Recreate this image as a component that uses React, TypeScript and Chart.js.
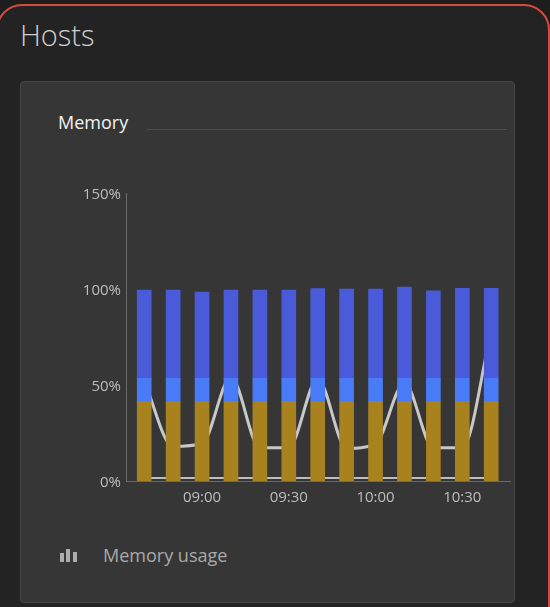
import React, { useEffect, useRef } from "react";
import { Chart, registerables } from "chart.js";

Chart.register(...registerables);

// ---- data ----
const times = ["08:40", "08:50", "09:00", "09:10", "09:20", "09:30", "09:40", "09:50", "10:00", "10:10", "10:20", "10:30", "10:40"];
const usedValues = [41.3, 41.3, 41.3, 41.3, 41.3, 41.3, 41.3, 41.3, 41.3, 41.3, 41.3, 41.3, 41.3];
const reclaimableValues = [12.2, 12.2, 12.2, 12.2, 12.2, 12.2, 12.2, 12.2, 12.2, 12.2, 12.2, 12.2, 12.2];
const availableValues = [46, 46, 44.9, 46, 46, 46, 46.7, 46.5, 46.5, 47.5, 45.6, 46.8, 46.8];
const pageFaultValues = [52, 18, 19.5, 54, 17.3, 17.5, 53, 17, 19.5, 51, 17.3, 17.3, 78];
const swapValues = [1.5, 1.5, 1.5, 1.5, 1.5, 1.5, 1.5, 1.5, 1.5, 1.5, 1.5, 1.5, 1.5];
const xTickLabels = ["09:00", "09:30", "10:00", "10:30"];
const yTickValues = [0, 50, 100, 150];

const BASE = 8 * 60 + 40;
const toMin = (t: string) => {
  const [h, m] = t.split(":").map(Number);
  return h * 60 + m - BASE;
};
const fmt = (v: number) => {
  const total = Math.round(v) + BASE;
  const h = Math.floor(total / 60);
  const m = total % 60;
  return `${String(h).padStart(2, "0")}:${String(m).padStart(2, "0")}`;
};
const pts = (vals: number[]) => vals.map((y, i) => ({ x: toMin(times[i]), y }));

function MemoryChart() {
  const ref = useRef<HTMLCanvasElement | null>(null);
  useEffect(() => {
    if (!ref.current) return;
    const font = { family: "'Open Sans', sans-serif", size: 15 };
    const chart = new Chart(ref.current, {
      type: "bar",
      data: {
        datasets: [
          { type: "bar", label: "Used", data: pts(usedValues), backgroundColor: "#a8821f", stack: "mem", order: 1, barThickness: 14, borderWidth: 0 },
          { type: "bar", label: "Reclaimable", data: pts(reclaimableValues), backgroundColor: "#4a7bf7", stack: "mem", order: 1, barThickness: 14, borderWidth: 0 },
          { type: "bar", label: "Available", data: pts(availableValues), backgroundColor: "#4a5bd9", stack: "mem", order: 1, barThickness: 14, borderWidth: 0 },
          { type: "line", label: "Page faults", data: pts(pageFaultValues), borderColor: "#c8c8c8", borderWidth: 3, pointRadius: 0, cubicInterpolationMode: "monotone", stack: "l1", order: 2, fill: false },
          { type: "line", label: "Swap", data: pts(swapValues), borderColor: "#bdbdbd", borderWidth: 2, pointRadius: 0, stack: "l2", order: 2, fill: false },
        ] as any,
      },
      options: {
        animation: false,
        responsive: false,
        maintainAspectRatio: false,
        layout: { padding: { top: 23, right: 10, left: 0, bottom: 0 } },
        plugins: { legend: { display: false }, tooltip: { enabled: false } },
        scales: {
          x: {
            type: "linear",
            offset: false,
            min: -6.3,
            max: 126.5,
            grid: { display: false, drawTicks: false, offset: false },
            border: { display: true, color: "#6a6a6a", width: 1 },
            afterBuildTicks: (scale: any) => {
              scale.ticks = xTickLabels.map((t) => ({ value: toMin(t) }));
            },
            afterFit: (scale: any) => {
              scale.height = 34;
            },
            ticks: {
              color: "#bdbdbd",
              font,
              padding: 8,
              maxRotation: 0,
              autoSkip: false,
              callback: (v: any) => fmt(Number(v)),
            },
          },
          y: {
            type: "linear",
            stacked: true,
            min: 0,
            max: 150,
            grid: { display: false, drawTicks: false },
            border: { display: true, color: "#6a6a6a", width: 1 },
            afterBuildTicks: (scale: any) => {
              scale.ticks = yTickValues.map((v) => ({ value: v }));
            },
            afterFit: (scale: any) => {
              scale.width = 66;
            },
            ticks: {
              color: "#bdbdbd",
              font,
              padding: 5,
              labelOffset: 2,
              callback: (v: any) => `${v}%`,
            },
          },
        },
      } as any,
    });
    return () => chart.destroy();
  }, []);
  return <canvas ref={ref} width={460} height={345} style={{ position: "absolute", left: 60, top: 170, width: 460, height: 345 }} />;
}

export default function App() {
  return (
    <div style={{ position: "absolute", left: 0, top: 0, width: 550, height: 607, background: "#1d1d1d", overflow: "hidden", fontFamily: "'Open Sans', sans-serif" }}>
      <div style={{ position: "absolute", left: -4, top: 4, width: 554, height: 640, background: "#232323", border: "2px solid #d64a40", borderRadius: 26, boxSizing: "border-box" }} />
      <div style={{ position: "absolute", left: 20, top: 20, fontSize: 29, lineHeight: "29px", fontWeight: 300, color: "#cfcfcf" }}>Hosts</div>
      <div style={{ position: "absolute", left: 20, top: 81, width: 495, height: 522, background: "#363636", border: "1px solid #454545", borderRadius: 4, boxSizing: "border-box" }} />
      <div style={{ position: "absolute", left: 58, top: 113, fontSize: 18, lineHeight: "18px", color: "#f2f2f2" }}>Memory</div>
      <div style={{ position: "absolute", left: 147, top: 129, width: 360, height: 1, background: "#4c4c4c" }} />
      <MemoryChart />
      <div style={{ position: "absolute", left: 60, top: 553, width: 4, height: 9, background: "#acacac" }} />
      <div style={{ position: "absolute", left: 66, top: 549, width: 4, height: 13, background: "#acacac" }} />
      <div style={{ position: "absolute", left: 73, top: 552, width: 4, height: 10, background: "#acacac" }} />
      <div style={{ position: "absolute", left: 103, top: 546, fontSize: 18, lineHeight: "18px", color: "#a9a9a9" }}>Memory usage</div>
    </div>
  );
}
